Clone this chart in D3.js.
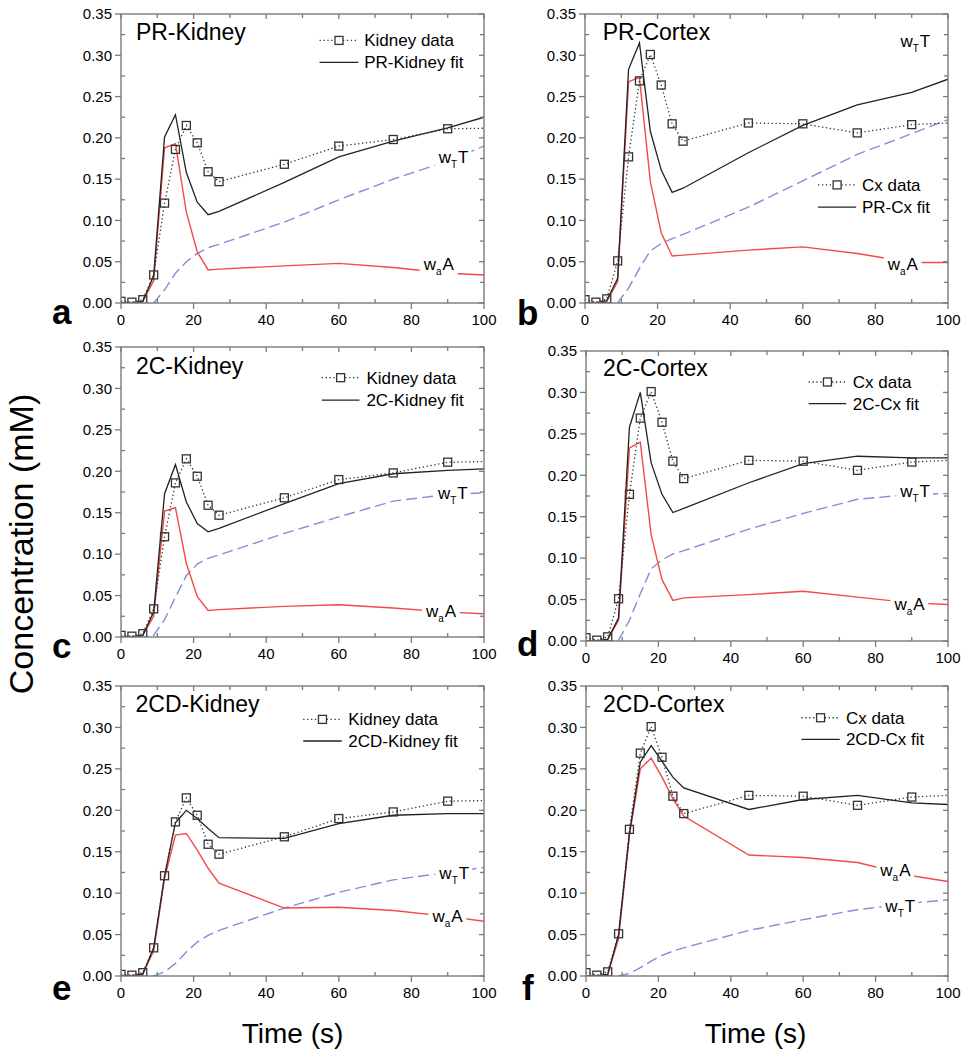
<!DOCTYPE html>
<html><head><meta charset="utf-8">
<script src="https://cdn.jsdelivr.net/npm/d3@7"></script>
<style>
body{margin:0;background:#fff;}
svg{display:block;}
text{font-family:"Liberation Sans",Arial,Helvetica,sans-serif;fill:#000;}
</style>
</head><body>
<svg id="chart" width="965" height="1050"></svg>
<script>
// ---------- DATA ----------
const dataTime = [0,3,6,9,12,15,18,21,24,27,45,60,75,90,105];
const fitTime  = [0,3,6,9,12,15,18,21,24,27,45,60,75,90,100];

const kidneyData = [0.002,0.001,0.004,0.034,0.121,0.186,0.215,0.194,0.159,0.147,0.168,0.190,0.198,0.211,0.212];
const cortexData = [0.004,0.001,0.005,0.051,0.177,0.269,0.301,0.264,0.217,0.196,0.218,0.217,0.206,0.216,0.219];

const fitA = [0,0,0.002,0.033,0.201,0.228,0.158,0.122,0.107,0.111,0.146,0.177,0.196,0.212,0.225];
const waA_A = [0,0,0.002,0.027,0.188,0.193,0.110,0.062,0.040,0.041,0.045,0.048,0.043,0.036,0.034];
const wtT_A = [0,0,0,0,0.016,0.036,0.050,0.060,0.067,0.071,0.098,0.125,0.150,0.172,0.190];

const fitB = [0,0,0.003,0.030,0.283,0.315,0.208,0.161,0.134,0.139,0.182,0.215,0.240,0.255,0.271];
const waA_B = [0,0,0.002,0.026,0.268,0.273,0.147,0.085,0.057,0.058,0.064,0.068,0.060,0.049,0.049];
const wtT_B = [0,0,0,0,0.018,0.042,0.063,0.072,0.078,0.083,0.116,0.148,0.180,0.205,0.222];

const fitC = [0,0,0.002,0.030,0.173,0.208,0.163,0.137,0.127,0.131,0.161,0.185,0.197,0.201,0.203];
const waA_C = [0,0,0.002,0.025,0.152,0.156,0.089,0.049,0.032,0.033,0.037,0.039,0.035,0.030,0.028];
const wtT_C = [0,0,0,0.002,0.021,0.048,0.074,0.088,0.095,0.099,0.125,0.145,0.164,0.172,0.174];

const fitD = [0,0,0.002,0.028,0.258,0.300,0.215,0.177,0.155,0.160,0.191,0.214,0.223,0.221,0.221];
const waA_D = [0,0,0.002,0.025,0.233,0.240,0.128,0.074,0.049,0.052,0.056,0.060,0.053,0.046,0.044];
const wtT_D = [0,0,0,0.001,0.025,0.057,0.087,0.098,0.105,0.109,0.135,0.154,0.171,0.177,0.178];

const fitE = [0,0,0.002,0.034,0.121,0.185,0.200,0.190,0.178,0.167,0.166,0.184,0.194,0.196,0.196];
const waA_E = [0,0,0.003,0.030,0.118,0.170,0.172,0.152,0.130,0.112,0.082,0.083,0.079,0.072,0.066];
const wtT_E = [0,0,0,0,0.005,0.015,0.029,0.041,0.049,0.055,0.082,0.101,0.116,0.125,0.131];

const fitF = [0,0,0.002,0.050,0.172,0.258,0.278,0.259,0.240,0.227,0.201,0.213,0.218,0.209,0.207];
const waA_F = [0,0,0.002,0.045,0.170,0.250,0.263,0.240,0.214,0.193,0.146,0.143,0.137,0.121,0.114];
const wtT_F = [0,0,0,0,0.003,0.010,0.018,0.025,0.030,0.034,0.055,0.068,0.080,0.088,0.092];

const panelLetters = ["a","b","c","d","e","f"];
const panelTitles = ["PR-Kidney","PR-Cortex","2C-Kidney","2C-Cortex","2CD-Kidney","2CD-Cortex"];
const dataLabels = ["Kidney data","Cx data","Kidney data","Cx data","Kidney data","Cx data"];
const fitLabels = ["PR-Kidney fit","PR-Cx fit","2C-Kidney fit","2C-Cx fit","2CD-Kidney fit","2CD-Cx fit"];

const xTicks = [0,20,40,60,80,100];
const xMinorTicks = [10,30,50,70,90];
const yTicks = [0,0.05,0.10,0.15,0.20,0.25,0.30,0.35];
const yMinorTicks = [0.025,0.075,0.125,0.175,0.225,0.275,0.325];
const xAxisTitle = "Time (s)";
const yAxisTitle = "Concentration (mM)";

// ---------- LAYOUT (positions / styles only) ----------
const layout = [
  {box:[121,14,484,303],  letter:[52,324], title:[4.1,0.318], leg:[54.7,65.4,67.0,0.318,0.2915], wt:[87.5,0.169], wa:[83.4,0.0395]},
  {box:[585,14,948,303],  letter:[517,325], title:[4.9,0.318], leg:[64.2,74.7,76.3,0.143,0.116],  wt:[86.9,0.310], wa:[83.4,0.0395]},
  {box:[121,347,484,637], letter:[52,658], title:[4.1,0.317], leg:[55.3,65.7,67.6,0.313,0.286],  wt:[87.3,0.167], wa:[84.0,0.024]},
  {box:[586,351,948,641], letter:[517,656], title:[4.7,0.320], leg:[61.5,71.9,73.7,0.3126,0.2865], wt:[86.8,0.174], wa:[85.2,0.0374]},
  {box:[121,686,484,976], letter:[52,1000], title:[4.0,0.319], leg:[50.2,60.8,62.6,0.3097,0.2836], wt:[87.7,0.1167], wa:[85.8,0.0656]},
  {box:[586,686,948,976], letter:[522,1000], title:[4.7,0.319], leg:[59.5,70.1,71.8,0.3117,0.2856], wt:[82.7,0.0776], wa:[81.3,0.1206]}
];
const panelSeries = [
  {data:kidneyData, fit:fitA, wa:waA_A, wt:wtT_A},
  {data:cortexData, fit:fitB, wa:waA_B, wt:wtT_B},
  {data:kidneyData, fit:fitC, wa:waA_C, wt:wtT_C},
  {data:cortexData, fit:fitD, wa:waA_D, wt:wtT_D},
  {data:kidneyData, fit:fitE, wa:waA_E, wt:wtT_E},
  {data:cortexData, fit:fitF, wa:waA_F, wt:wtT_F}
];

const COL_FRAME = "#7a7a7a", COL_DATA = "#333", COL_FIT = "#222", COL_RED = "#f24a4a", COL_BLUE = "#7f8fd8";

const svg = d3.select("#chart");

function subLabel(g, x, y, main, sub, tail){
  const t = g.append("text").attr("x", x).attr("y", y).attr("font-size", 17);
  t.append("tspan").text(main);
  t.append("tspan").attr("font-size", 10).attr("dy", 5).text(sub);
  t.append("tspan").attr("dy", -5).attr("dx", 1).text(tail);
  const bb = t.node().getBBox();
  g.insert("rect", () => t.node())
    .attr("x", bb.x - 3).attr("y", bb.y - 1).attr("width", bb.width + 6).attr("height", bb.height + 2)
    .attr("fill", "#fff");
  return t;
}

layout.forEach((L, i) => {
  const S = panelSeries[i];
  const [x0,y0,x1,y1] = L.box;
  const x = d3.scaleLinear().domain([0,100]).range([x0,x1]);
  const y = d3.scaleLinear().domain([0,0.35]).range([y1,y0]);
  const g = svg.append("g");

  const clipId = "clip" + i;
  svg.append("defs").append("clipPath").attr("id", clipId)
    .append("rect").attr("x", x0).attr("y", y0).attr("width", x1-x0).attr("height", y1-y0);
  const plot = g.append("g").attr("clip-path", `url(#${clipId})`);

  const line = d3.line().x(d => x(d[0])).y(d => y(d[1]));
  const fitPts = s => fitTime.map((t,k) => [t, s[k]]);

  plot.append("path").attr("d", line(fitPts(S.wt))).attr("fill","none")
    .attr("stroke", COL_BLUE).attr("stroke-width", 1.4).attr("stroke-dasharray","11,5");
  plot.append("path").attr("d", line(fitPts(S.wa))).attr("fill","none")
    .attr("stroke", COL_RED).attr("stroke-width", 1.4);
  plot.append("path").attr("d", line(fitPts(S.fit))).attr("fill","none")
    .attr("stroke", COL_FIT).attr("stroke-width", 1.3);

  const dPts = dataTime.map((t,k) => [t, S.data[k]]);
  plot.append("path").attr("d", line(dPts)).attr("fill","none")
    .attr("stroke", COL_DATA).attr("stroke-width", 1.3).attr("stroke-dasharray","1.3,2.6");
  plot.selectAll("rect.pt").data(dPts).enter().append("rect")
    .attr("x", d => x(d[0]) - 4).attr("y", d => y(d[1]) - 4)
    .attr("width", 8).attr("height", 8)
    .attr("fill", "none").attr("stroke", COL_DATA).attr("stroke-width", 1.3);

  // labels for components
  subLabel(g, x(L.wt[0]), y(L.wt[1]), "w", "T", "T");
  subLabel(g, x(L.wa[0]), y(L.wa[1]), "w", "a", "A");

  // frame
  g.append("rect").attr("x", x0).attr("y", y0).attr("width", x1-x0).attr("height", y1-y0)
    .attr("fill","none").attr("stroke", COL_FRAME).attr("stroke-width", 1.4);

  // ticks
  const tk = g.append("g").attr("stroke", COL_FRAME).attr("stroke-width", 1.3);
  xTicks.forEach(v => {
    tk.append("line").attr("x1", x(v)).attr("x2", x(v)).attr("y1", y1).attr("y2", y1 + 6);
    tk.append("line").attr("x1", x(v)).attr("x2", x(v)).attr("y1", y0).attr("y2", y0 + 5);
  });
  xMinorTicks.forEach(v => {
    tk.append("line").attr("x1", x(v)).attr("x2", x(v)).attr("y1", y1).attr("y2", y1 - 4);
    tk.append("line").attr("x1", x(v)).attr("x2", x(v)).attr("y1", y0).attr("y2", y0 + 4);
  });
  yTicks.forEach(v => {
    tk.append("line").attr("x1", x0 - 6).attr("x2", x0).attr("y1", y(v)).attr("y2", y(v));
    tk.append("line").attr("x1", x1 - 5).attr("x2", x1).attr("y1", y(v)).attr("y2", y(v));
  });
  yMinorTicks.forEach(v => {
    tk.append("line").attr("x1", x0).attr("x2", x0 + 4).attr("y1", y(v)).attr("y2", y(v));
    tk.append("line").attr("x1", x1 - 4).attr("x2", x1).attr("y1", y(v)).attr("y2", y(v));
  });

  // tick labels
  xTicks.forEach(v => {
    g.append("text").attr("x", x(v)).attr("y", y1 + 22).attr("text-anchor","middle")
      .attr("font-size", 15).text(d3.format("d")(v));
  });
  yTicks.forEach(v => {
    g.append("text").attr("x", x0 - 9).attr("y", y(v)).attr("dy","0.35em").attr("text-anchor","end")
      .attr("font-size", 15).text(d3.format(".2f")(v));
  });

  // title
  g.append("text").attr("x", x(L.title[0])).attr("y", y(L.title[1]))
    .attr("font-size", 23).text(panelTitles[i]);

  // legend
  const [lx1, lx2, ltx, ly1, ly2] = L.leg;
  g.append("line").attr("x1", x(lx1)).attr("x2", x(lx2)).attr("y1", y(ly1)).attr("y2", y(ly1))
    .attr("stroke", COL_DATA).attr("stroke-width", 1.3).attr("stroke-dasharray","1.3,2.6");
  g.append("rect").attr("x", x((lx1+lx2)/2) - 4).attr("y", y(ly1) - 4).attr("width", 8).attr("height", 8)
    .attr("fill","#fff").attr("stroke", COL_DATA).attr("stroke-width", 1.3);
  g.append("line").attr("x1", x(lx1)).attr("x2", x(lx2)).attr("y1", y(ly2)).attr("y2", y(ly2))
    .attr("stroke", COL_FIT).attr("stroke-width", 1.3);
  g.append("text").attr("x", x(ltx)).attr("y", y(ly1)).attr("dy","0.35em").attr("font-size", 17).text(dataLabels[i]);
  g.append("text").attr("x", x(ltx)).attr("y", y(ly2)).attr("dy","0.35em").attr("font-size", 17).text(fitLabels[i]);

  // panel letter
  g.append("text").attr("x", L.letter[0]).attr("y", L.letter[1])
    .attr("font-size", 35).attr("font-weight","bold").text(panelLetters[i]);
});

// axis titles
svg.append("text").attr("transform","translate(33,544) rotate(-90)").attr("text-anchor","middle")
  .attr("font-size", 34).text(yAxisTitle);
svg.append("text").attr("x", 292.5).attr("y", 1043).attr("text-anchor","middle")
  .attr("font-size", 28).text(xAxisTitle);
svg.append("text").attr("x", 755.5).attr("y", 1043).attr("text-anchor","middle")
  .attr("font-size", 28).text(xAxisTitle);
</script>
</body></html>
